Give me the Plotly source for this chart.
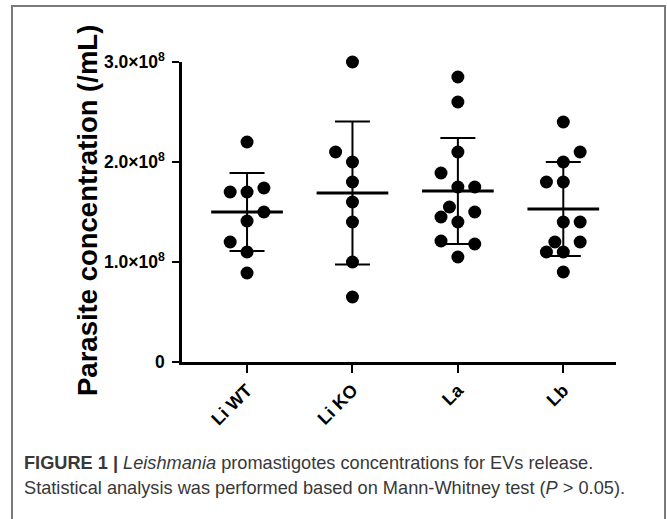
import plotly.graph_objects as go

# ---- data ----
categories = ["Li WT", "Li KO", "La", "Lb"]
li_wt = [2.2e8, 1.74e8, 1.70e8, 1.70e8, 1.50e8, 1.41e8, 1.20e8, 1.10e8, 0.89e8]
li_ko = [3.0e8, 2.1e8, 2.0e8, 1.8e8, 1.6e8, 1.4e8, 1.0e8, 0.65e8]
la = [2.85e8, 2.6e8, 2.1e8, 1.89e8, 1.75e8, 1.75e8, 1.55e8, 1.50e8, 1.45e8, 1.40e8, 1.21e8, 1.18e8, 1.05e8]
lb = [2.4e8, 2.1e8, 2.0e8, 1.8e8, 1.8e8, 1.4e8, 1.4e8, 1.2e8, 1.2e8, 1.1e8, 1.1e8, 0.9e8]
means = [1.50e8, 1.69e8, 1.71e8, 1.53e8]
sds = [0.39e8, 0.715e8, 0.53e8, 0.47e8]
y_tickvals = [0, 1e8, 2e8, 3e8]
y_ticktext = ["0", "1.0×10<sup>8</sup>", "2.0×10<sup>8</sup>", "3.0×10<sup>8</sup>"]

# ---- layout of the scatter (slot offsets used by the dot swarm) ----
li_wt_slots = [0, 1, -1, 0, 1, 0, -1, 0, 0]
li_ko_slots = [0, -1, 0, 0, 0, 0, 0, 0]
la_slots = [0, 0, 0, -1, 0, 1, -0.5, 1, -1, 0, -1, 1, 0]
lb_slots = [0, 1, 0, -1, 0, 0, 1, -0.5, 1, -1, 0, 0]
slot_w = 0.16
mean_half = 0.34
cap_half = 0.166

groups = [li_wt, li_ko, la, lb]
slots = [li_wt_slots, li_ko_slots, la_slots, lb_slots]

fig = go.Figure()

for i, (vals, sl) in enumerate(zip(groups, slots)):
    fig.add_trace(go.Scatter(
        x=[i + s * slot_w for s in sl], y=vals, mode="markers",
        marker=dict(color="black", size=13, line=dict(width=0)),
        cliponaxis=False, showlegend=False, hoverinfo="y"))

# SD bars
sx, sy = [], []
for i, (m, s) in enumerate(zip(means, sds)):
    sx += [i, i, None, i - cap_half, i + cap_half, None, i - cap_half, i + cap_half, None]
    sy += [m - s, m + s, None, m + s, m + s, None, m - s, m - s, None]
fig.add_trace(go.Scatter(x=sx, y=sy, mode="lines", line=dict(color="black", width=2),
                         cliponaxis=False, showlegend=False, hoverinfo="skip"))
# mean lines
mx, my = [], []
for i, m in enumerate(means):
    mx += [i - mean_half, i + mean_half, None]
    my += [m, m, None]
fig.add_trace(go.Scatter(x=mx, y=my, mode="lines", line=dict(color="black", width=3),
                         cliponaxis=False, showlegend=False, hoverinfo="skip"))

L, R, T, B = 182, 51, 62, 157
W, H = 667, 519
pw, ph = W - L - R, H - T - B

def px(xp):
    return (xp - L) / pw

def py(yp):
    return (H - B - yp) / ph

ytick_font = dict(family="Liberation Sans, Arial, sans-serif", size=17.5, color="black", weight="bold")
xtick_font = dict(family="Liberation Sans, Arial, sans-serif", size=18, color="black", weight="bold")
cap_font = dict(family="Liberation Sans, Arial, sans-serif", size=18.2, color="#383838")

fig.update_layout(
    width=W, height=H,
    margin=dict(l=L, r=R, t=T, b=B),
    paper_bgcolor="white", plot_bgcolor="white",
    xaxis=dict(range=[-0.617, 3.5], tickvals=list(range(len(categories))), ticktext=categories,
               tickangle=-45, tickfont=xtick_font, showgrid=False, zeroline=False,
               showline=True, linecolor="black", linewidth=2.5,
               ticks="outside", ticklen=8, tickwidth=2, tickcolor="black"),
    yaxis=dict(range=[0, 3e8], tickvals=y_tickvals, ticktext=y_ticktext,
               tickfont=ytick_font, showgrid=False, zeroline=False,
               showline=True, linecolor="black", linewidth=2.5,
               ticks="outside", ticklen=7, tickwidth=2, tickcolor="black",
               ticklabelstandoff=4),
    shapes=[dict(type="rect", xref="paper", yref="paper",
                 x0=px(12), x1=px(665), y0=py(540), y1=py(6),
                 line=dict(color="#7a7a7a", width=2), fillcolor="rgba(0,0,0,0)", layer="below")],
    annotations=[
        dict(text="<b>Parasite concentration (/mL)</b>", xref="paper", yref="paper",
             x=px(87), y=py(211), xanchor="center", yanchor="middle", textangle=-90,
             showarrow=False, font=dict(family="Liberation Sans, Arial, sans-serif", size=27.5, color="black")),
        dict(text="<b>FIGURE 1 |</b> <i>Leishmania</i> promastigotes concentrations for EVs release.",
             xref="paper", yref="paper", x=px(22), y=py(463), xanchor="left", yanchor="middle",
             showarrow=False, font=cap_font),
        dict(text="Statistical analysis was performed based on Mann-Whitney test (<i>P</i> &gt; 0.05).",
             xref="paper", yref="paper", x=px(22), y=py(488), xanchor="left", yanchor="middle",
             showarrow=False, font=cap_font),
    ],
)

fig.write_html("out.html", config={"displayModeBar": False},
               post_script="document.body.style.margin='0';")
